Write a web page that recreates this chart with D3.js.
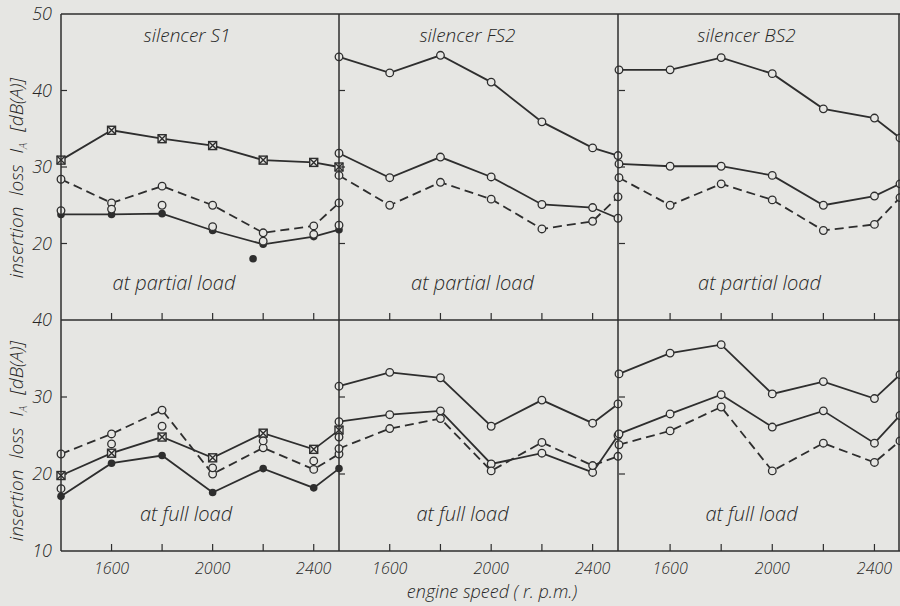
<!DOCTYPE html>
<html lang="en">
<head>
<meta charset="utf-8">
<title>insertion loss of silencers</title>
<script src="https://cdn.jsdelivr.net/npm/d3@7"></script>
<style>
  body { margin: 0; background: #e6e6e3; }
  svg { display: block; }
  text { font-family: "Open Sans", "DejaVu Sans", sans-serif; font-style: italic; font-weight: 300; fill: #262626; }
</style>
</head>
<body>
<script>
// engine speeds of the measured points (r.p.m.)
var rpm = [1400, 1600, 1800, 2000, 2200, 2400, 2500];
var xTicks = [1600, 1800, 2000, 2200, 2400];
var xLabels = [1600, 2000, 2400];
var panelNames = ["silencer S1", "silencer FS2", "silencer BS2"];

// partial load, insertion loss dB(A)
var s1PartCross  = [30.9, 34.8, 33.7, 32.8, 30.9, 30.6, 30.0];
var s1PartDash   = [28.4, 25.3, 27.5, 25.0, 21.4, 22.3, 25.3];
var s1PartFilled = [23.8, 23.8, 23.9, 21.7, 19.9, 20.9, 21.8];
var s1PartOpen   = [24.3, 24.5, 25.0, 22.2, 20.3, 21.2, 22.4];
var s1PartStray  = [[2160, 18.0]];
var fs2PartTop   = [44.4, 42.3, 44.6, 41.1, 35.9, 32.5, 31.5];
var fs2PartMid   = [31.8, 28.6, 31.3, 28.7, 25.1, 24.7, 23.3];
var fs2PartDash  = [28.9, 25.0, 28.0, 25.8, 21.9, 22.9, 26.1];
var bs2PartTop   = [42.7, 42.7, 44.3, 42.2, 37.6, 36.4, 33.8];
var bs2PartMid   = [30.4, 30.1, 30.1, 28.9, 25.0, 26.2, 27.8];
var bs2PartDash  = [28.6, 25.0, 27.8, 25.7, 21.7, 22.5, 26.0];

// full load
var s1FullCross  = [19.8, 22.7, 24.8, 22.1, 25.3, 23.2, 25.7];
var s1FullFilled = [17.1, 21.4, 22.4, 17.6, 20.7, 18.2, 20.7];
var s1FullDash   = [22.6, 25.2, 28.3, 20.0, 23.4, 20.6, 22.6];
var s1FullOpen   = [18.1, 23.9, 26.2, 20.8, 24.3, 21.7, 24.8];
var fs2FullTop   = [31.4, 33.2, 32.5, 26.2, 29.6, 26.6, 29.1];
var fs2FullMid   = [26.8, 27.7, 28.2, 21.3, 22.7, 20.2, 25.0];
var fs2FullDash  = [23.3, 25.9, 27.2, 20.4, 24.1, 21.1, 22.3];
var bs2FullTop   = [33.0, 35.7, 36.8, 30.4, 32.0, 29.8, 32.9];
var bs2FullMid   = [25.2, 27.8, 30.3, 26.1, 28.2, 24.0, 27.6];
var bs2FullDash  = [23.8, 25.6, 28.7, 20.4, 24.0, 21.5, 24.3];

var ink = "#2e2e2e";
var paper = "#e6e6e3";

var svg = d3.select("body").append("svg")
  .attr("width", 900)
  .attr("height", 606);

// three panels side by side, each with a partial-load (top) and full-load (bottom) plot
var panelRanges = [[61, 339], [339, 618], [619, 900]];
var yTop = d3.scaleLinear().domain([10, 50]).range([320, 14]);
var yBot = d3.scaleLinear().domain([10, 40]).range([551, 320]);

// label shifts from the panel centre (the original lettering is not centred)
var titleShift = [-13, -11, -13];
var partShift = [-26, -6, 0];
var fullShift = [-14, -16, -8];

var partial = [
  [{v: s1PartCross, mark: "cross", line: "solid"}, {v: s1PartDash, mark: "open", line: "dash"},
   {v: s1PartFilled, mark: "filled", line: "solid"}, {v: s1PartOpen, mark: "open", line: "none"}],
  [{v: fs2PartTop, mark: "open", line: "solid"}, {v: fs2PartMid, mark: "open", line: "solid"},
   {v: fs2PartDash, mark: "open", line: "dash"}],
  [{v: bs2PartTop, mark: "open", line: "solid"}, {v: bs2PartMid, mark: "open", line: "solid"},
   {v: bs2PartDash, mark: "open", line: "dash"}]
];
var full = [
  [{v: s1FullCross, mark: "cross", line: "solid"}, {v: s1FullDash, mark: "open", line: "dash"},
   {v: s1FullFilled, mark: "filled", line: "solid"}, {v: s1FullOpen, mark: "open", line: "none"}],
  [{v: fs2FullTop, mark: "open", line: "solid"}, {v: fs2FullMid, mark: "open", line: "solid"},
   {v: fs2FullDash, mark: "open", line: "dash"}],
  [{v: bs2FullTop, mark: "open", line: "solid"}, {v: bs2FullMid, mark: "open", line: "solid"},
   {v: bs2FullDash, mark: "open", line: "dash"}]
];

function drawPlot(g, x, y, series, label, shift, yTicks) {
  var x0 = x.range()[0], x1 = x.range()[1];
  var yb = y.range()[0], yt = y.range()[1];

  // ticks pointing inward
  g.selectAll(".xt").data(xTicks).enter().append("line")
    .attr("x1", function(d) { return x(d); }).attr("x2", function(d) { return x(d); })
    .attr("y1", yb).attr("y2", yb - 7)
    .attr("stroke", ink).attr("stroke-width", 1.2);
  g.selectAll(".yt").data(yTicks).enter().append("line")
    .attr("x1", x0).attr("x2", x0 + 6)
    .attr("y1", function(d) { return y(d); }).attr("y2", function(d) { return y(d); })
    .attr("stroke", ink).attr("stroke-width", 1.2);

  g.append("text")
    .attr("x", (x0 + x1) / 2 + shift).attr("y", yb - 30)
    .attr("text-anchor", "middle").attr("font-size", 20)
    .text(label);

  var line = d3.line()
    .x(function(d, i) { return x(rpm[i]); })
    .y(function(d) { return y(d); });

  series.forEach(function(s) {
    if (s.line !== "none") {
      g.append("path")
        .attr("d", line(s.v))
        .attr("fill", "none").attr("stroke", ink)
        .attr("stroke-width", 1.8)
        .attr("stroke-dasharray", s.line === "dash" ? "9,5" : null);
    }
    var pts = g.append("g").selectAll("g").data(s.v).enter().append("g")
      .attr("transform", function(d, i) { return "translate(" + x(rpm[i]) + "," + y(d) + ")"; });
    if (s.mark === "open") {
      pts.append("circle").attr("r", 3.8)
        .attr("fill", paper).attr("stroke", ink).attr("stroke-width", 1.3);
    } else if (s.mark === "filled") {
      pts.append("circle").attr("r", 3.8).attr("fill", ink);
    } else {
      pts.append("rect").attr("x", -4).attr("y", -4).attr("width", 8).attr("height", 8)
        .attr("fill", paper).attr("stroke", ink).attr("stroke-width", 1.4);
      pts.append("path").attr("d", "M-4,-4L4,4M4,-4L-4,4")
        .attr("stroke", ink).attr("stroke-width", 1.4);
    }
  });
}

panelRanges.forEach(function(r, p) {
  var x = d3.scaleLinear().domain([1400, 2500]).range(r);
  var g = svg.append("g");
  drawPlot(g, x, yTop, partial[p], "at partial load", partShift[p], [20, 30, 40]);
  drawPlot(g, x, yBot, full[p], "at full load", fullShift[p], [20, 30]);

  g.append("text")
    .attr("x", (r[0] + r[1]) / 2 + titleShift[p]).attr("y", 42)
    .attr("text-anchor", "middle").attr("font-size", 19)
    .text(panelNames[p]);

  g.selectAll(".xl").data(xLabels).enter().append("text")
    .attr("x", function(d) { return x(d); }).attr("y", 574)
    .attr("text-anchor", "middle").attr("font-size", 16)
    .text(function(d) { return d; });

  if (p === 0) {
    g.selectAll(".stray").data(s1PartStray).enter().append("circle")
      .attr("cx", function(d) { return x(d[0]); })
      .attr("cy", function(d) { return yTop(d[1]); })
      .attr("r", 3.8).attr("fill", ink);
  }
});

// frame lines, each drawn once
var xEdges = [61, 339, 618, 899];
var yEdges = [yTop.range()[1], yTop.range()[0], yBot.range()[0]];
svg.selectAll(".vx").data(xEdges).enter().append("line")
  .attr("x1", function(d) { return d; }).attr("x2", function(d) { return d; })
  .attr("y1", yEdges[0]).attr("y2", yEdges[2])
  .attr("stroke", ink).attr("stroke-width", 1.5);
svg.selectAll(".hz").data(yEdges).enter().append("line")
  .attr("x1", xEdges[0]).attr("x2", 900)
  .attr("y1", function(d) { return d; }).attr("y2", function(d) { return d; })
  .attr("stroke", ink).attr("stroke-width", 1.5);

// y tick labels
var topLabels = [20, 30, 40, 50];
var botLabels = [10, 20, 30, 40];
svg.selectAll(".ylt").data(topLabels).enter().append("text")
  .attr("x", 52).attr("y", function(d) { return yTop(d) + 6; })
  .attr("text-anchor", "end").attr("font-size", 18)
  .text(function(d) { return d; });
svg.selectAll(".ylb").data(botLabels).enter().append("text")
  .attr("x", 52).attr("y", function(d) { return yBot(d) + 6; })
  .attr("text-anchor", "end").attr("font-size", 18)
  .text(function(d) { return d; });

// axis titles
[178, 441].forEach(function(cy) {
  var t = svg.append("text")
    .attr("transform", "translate(23," + cy + ") rotate(-90)")
    .attr("text-anchor", "middle").attr("font-size", 19)
    .attr("word-spacing", 6);
  t.append("tspan").text("insertion loss  I");
  t.append("tspan").attr("font-size", 11).attr("dy", 4).text("A");
  t.append("tspan").attr("dy", -4).text("  [dB(A)]");
});

svg.append("text")
  .attr("x", 492).attr("y", 598)
  .attr("text-anchor", "middle").attr("font-size", 18)
  .text("engine speed ( r. p.m.)");
</script>
</body>
</html>
